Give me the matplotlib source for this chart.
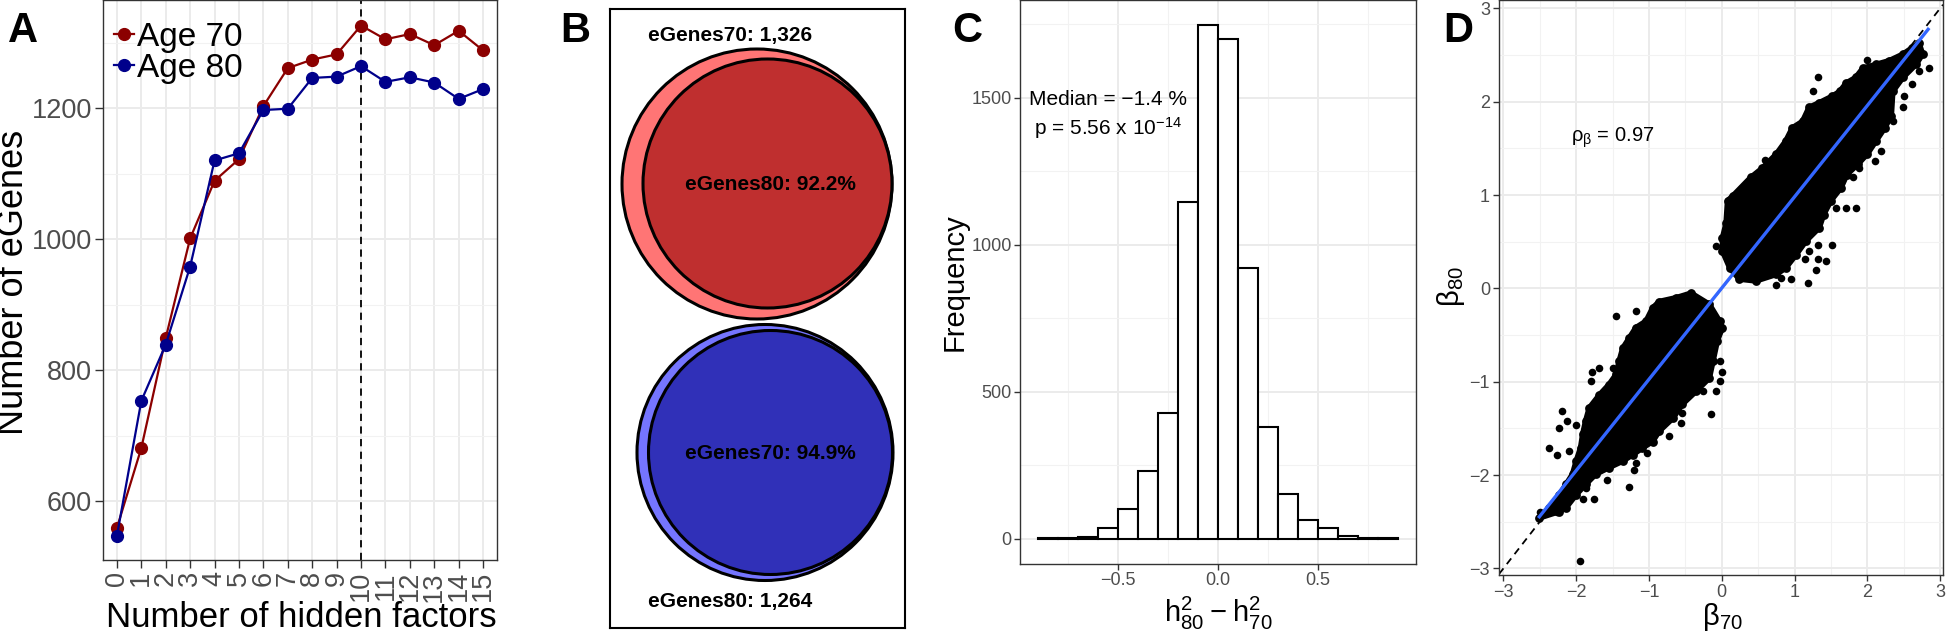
import numpy as np
import matplotlib
matplotlib.use("Agg")
import matplotlib.pyplot as plt
from matplotlib.patches import Circle

plt.rcParams['font.family'] = ['Liberation Sans', 'DejaVu Sans']
plt.rcParams['mathtext.default'] = 'regular'

W, H = 1946, 634

# ---- panel A: eGenes vs number of hidden factors
factors = list(range(16))
age70 = [559, 681, 849, 1001, 1089, 1122, 1203, 1261, 1274, 1282, 1326, 1305, 1313, 1296, 1318, 1288]
age80 = [547, 753, 839, 958, 1120, 1131, 1197, 1199, 1246, 1248, 1264, 1240, 1247, 1239, 1214, 1229]
chosen_k = 10

# ---- panel B: venn overlap
venn_names = ['eGenes70', 'eGenes80']
venn_totals = [1326, 1264]
venn_shared_pct = [92.2, 94.9]

# ---- panel C: histogram of h2 difference
h2_edges = [-0.9, -0.8, -0.7, -0.6, -0.5, -0.4, -0.3, -0.2, -0.1, 0.0,
            0.1, 0.2, 0.3, 0.4, 0.5, 0.6, 0.7, 0.8, 0.9]
h2_counts = [2, 3, 7, 37, 102, 231, 429, 1144, 1747, 1702, 920, 379, 153, 64, 37, 9, 1, 2]
median_pct = -1.4
p_mant, p_exp = 5.56, -14

# ---- panel D: beta70 vs beta80 (dense clouds as outlines + stray points)
upper_x = [0.01, 0.06, 0.08, 0.15, 0.40, 0.56, 0.75, 0.88, 0.97, 1.11, 1.20, 1.34, 1.52, 1.62,
           1.71, 1.84, 1.94, 2.12, 2.30, 2.49, 2.62, 2.71, 2.76, 2.67, 2.49, 2.35, 2.33, 2.24,
           2.12, 2.00, 1.87, 1.72, 1.64, 1.50, 1.40, 1.34, 1.16, 1.02, 0.88, 0.75, 0.47, 0.24,
           0.11, 0.01]
upper_y = [0.54, 0.70, 0.94, 0.99, 1.19, 1.29, 1.44, 1.58, 1.72, 1.79, 1.94, 1.99, 2.06, 2.11,
           2.20, 2.26, 2.36, 2.40, 2.44, 2.51, 2.58, 2.63, 2.51, 2.40, 2.26, 2.11, 1.85, 1.72,
           1.58, 1.44, 1.33, 1.22, 1.08, 0.94, 0.79, 0.65, 0.51, 0.36, 0.22, 0.15, 0.08, 0.10,
           0.22, 0.40]
lower_x = [-0.42, -0.17, -0.03, 0.01, -0.06, -0.12, -0.17, -0.35, -0.54, -0.67, -0.86, -0.95,
           -1.09, -1.22, -1.36, -1.55, -1.73, -1.87, -2.00, -2.14, -2.23, -2.51, -2.37, -2.23,
           -2.14, -2.05, -2.00, -1.94, -1.91, -1.87, -1.82, -1.68, -1.55, -1.45, -1.41, -1.36,
           -1.27, -1.18, -1.04, -0.95, -0.86, -0.63]
lower_y = [-0.05, -0.17, -0.35, -0.42, -0.56, -0.78, -0.96, -1.10, -1.24, -1.39, -1.53, -1.64,
           -1.71, -1.78, -1.85, -1.92, -1.99, -2.10, -2.21, -2.35, -2.39, -2.46, -2.35, -2.21,
           -2.10, -1.99, -1.85, -1.71, -1.56, -1.42, -1.28, -1.14, -1.03, -0.92, -0.78, -0.64,
           -0.53, -0.42, -0.35, -0.21, -0.14, -0.10]
stray_x = [1.32, 1.25, 2.00, 0.59, -0.08, 1.71, 1.84, 1.52, 1.32, 1.20, 1.43, 1.32, 1.14, 1.30,
           0.95, 0.81, 1.19, 0.74, 2.85, 2.71, 2.67, 2.58, 2.62, 2.51, 2.49, 2.35, 2.19, 2.10,
           1.89, 1.80, 1.57,
           -1.45, -1.18, -1.68, -1.78, -1.50, -1.80, -2.19, -2.24, -2.12, -2.00, -2.37, -2.26,
           -2.10, -1.87, -1.75, -1.91, -1.57, -1.27, -2.26, -0.03, 0.01, -0.03, -0.08, -0.15,
           -0.26, -0.54, -0.56, -0.72, -1.02, -1.18, -1.20, -1.95, -2.50]
stray_y = [2.26, 2.12, 2.45, 1.38, 0.45, 0.86, 0.86, 0.47, 0.47, 0.40, 0.29, 0.31, 0.31, 0.20,
           0.10, 0.11, 0.06, 0.04, 2.36, 2.33, 2.44, 2.45, 2.19, 2.06, 1.94, 1.79, 1.47, 1.36,
           1.29, 1.19, 0.86,
           -0.30, -0.24, -0.85, -0.89, -0.85, -0.99, -1.31, -1.49, -1.42, -1.46, -1.71, -1.78,
           -1.74, -2.14, -2.26, -2.26, -2.05, -2.13, -2.39, -0.78, -0.89, -0.99, -1.10, -1.35,
           -1.10, -1.33, -1.44, -1.58, -1.76, -1.87, -1.94, -2.92, -2.40]
fit_x = [-2.52, 2.85]
fit_y = [-2.46, 2.79]
rho_beta = 0.97

GRAY_TXT = '#4D4D4D'
GRID = '#EBEBEB'


def px_axes(l, t, r, b):
    return fig.add_axes([l / W, 1 - b / H, (r - l) / W, (b - t) / H])


def ftext(x, y, s, **kw):
    return fig.text(x / W, 1 - y / H, s, **kw)


def theme_bw(ax, tick_len, tick_size):
    ax.set_facecolor('white')
    for sp in ax.spines.values():
        sp.set_color('#333333')
        sp.set_linewidth(1.0)
    ax.tick_params(which='major', length=tick_len, width=1.0, color='#333333',
                   labelsize=tick_size, labelcolor=GRAY_TXT, pad=2)
    ax.tick_params(which='minor', length=0)
    ax.grid(which='major', color=GRID, lw=1.4)
    ax.grid(which='minor', color='#F2F2F2', lw=0.8)
    ax.set_axisbelow(True)


fig = plt.figure(figsize=(W / 100, H / 100), dpi=100)

# ================= A
axA = px_axes(103, 0, 497, 560)
theme_bw(axA, 6, 19.5)
axA.plot(factors, age70, '-o', color='#8B0000', lw=1.6, ms=8.5, label='Age 70', zorder=3)
axA.plot(factors, age80, '-o', color='#00008B', lw=1.6, ms=8.5, label='Age 80', zorder=4)
axA.axvline(chosen_k, color='black', ls=(0, (4, 3)), lw=1.3, zorder=2)
axA.set_xlim(-0.57, 15.57)
axA.set_ylim(510, 1365)
axA.set_xticks(factors)
axA.set_xticklabels([str(f) for f in factors], rotation=90)
axA.set_yticks([600, 800, 1000, 1200])
axA.set_yticks([700, 900, 1100, 1300], minor=True)
axA.legend(loc='upper left', bbox_to_anchor=(114 / W, 1 - 22 / H), bbox_transform=fig.transFigure,
           frameon=False, borderpad=0, borderaxespad=0, handlelength=0.6, handletextpad=0.1,
           labelspacing=0.0, fontsize=24)
ftext(14, 282, 'Number of eGenes', rotation=90, ha='center', va='center', fontsize=26)
ftext(301, 627, 'Number of hidden factors', ha='center', va='baseline', fontsize=25)

# ================= B
axB = px_axes(610, 9, 905, 628)
axB.set_xlim(0, 295)
axB.set_ylim(619, 0)
axB.set_xticks([])
axB.set_yticks([])
for sp in axB.spines.values():
    sp.set_color('black')
    sp.set_linewidth(1.5)
venn_layout = [  # (outer centre, outer r, inner centre, inner r, colours)
    ((147, 175), 135, (157.5, 174.5), 124.5, '#FF7575', '#BF2F2F'),
    ((155, 443.5), 128, (160.5, 443.5), 122, '#7575FF', '#3030B8'),
]
for (oc, orad, ic, irad, c_out, c_in) in venn_layout:
    axB.add_patch(Circle(oc, orad, facecolor=c_out, edgecolor='black', lw=2.2))
    axB.add_patch(Circle(ic, irad, facecolor=c_in, edgecolor='black', lw=2.2))
bold = dict(fontsize=15, fontweight='bold', ha='center', va='center')
axB.text(120, 27, f'{venn_names[0]}: {venn_totals[0]:,}', **bold)
axB.text(160, 176, f'{venn_names[1]}: {venn_shared_pct[0]}%', **bold)
axB.text(160, 444.5, f'{venn_names[0]}: {venn_shared_pct[1]}%', **bold)
axB.text(120, 593, f'{venn_names[1]}: {venn_totals[1]:,}', **bold)

# ================= C
axC = px_axes(1020, 0, 1416, 564)
theme_bw(axC, 4, 13)
widths = np.diff(h2_edges)
axC.bar(h2_edges[:-1], h2_counts, width=widths, align='edge', facecolor='white',
        edgecolor='black', lw=1.5, zorder=3)
axC.set_xlim(-0.99, 0.99)
axC.set_ylim(-86, 1833)
axC.set_xticks([-0.5, 0, 0.5])
axC.set_xticklabels(['\u22120.5', '0.0', '0.5'])
axC.set_xticks([-0.75, -0.25, 0.25, 0.75], minor=True)
axC.set_yticks([0, 500, 1000, 1500])
axC.set_yticks([250, 750, 1250, 1750], minor=True)
axC.text(-0.55, 1496, f'Median = \u2212{abs(median_pct)} %', ha='center', va='center', fontsize=15)
axC.text(-0.55, 1397, f'p = {p_mant} x 10$^{{{p_exp}}}$', ha='center', va='center', fontsize=15)
ftext(955, 282, 'Frequency', rotation=90, ha='center', va='center', fontsize=21)
ftext(1218, 613, '$h_{80}^{2} - h_{70}^{2}$', ha='center', va='center', fontsize=21)

# ================= D
axD = px_axes(1499, 0, 1943, 575)
theme_bw(axD, 4.5, 13)
axD.axline((0, 0), slope=1, color='black', ls=(0, (4, 3)), lw=1.3, zorder=2)
for bx, by in ((upper_x, upper_y), (lower_x, lower_y)):
    axD.fill(bx, by, facecolor='black', edgecolor='black', lw=4, joinstyle='round', zorder=3)
    axD.scatter(bx, by, s=40, color='black', zorder=3, lw=0)
axD.scatter(stray_x, stray_y, s=30, color='black', zorder=3, lw=0)
axD.plot(fit_x, fit_y, color='#3366FF', lw=2.4, zorder=4, solid_capstyle='butt')
axD.set_xlim(-3.06, 3.04)
axD.set_ylim(-3.07, 3.09)
axD.set_xticks(range(-3, 4))
axD.set_yticks(range(-3, 4))
axD.set_xticks([-2.5, -1.5, -0.5, 0.5, 1.5, 2.5], minor=True)
axD.set_yticks([-2.5, -1.5, -0.5, 0.5, 1.5, 2.5], minor=True)
axD.text(-1.5, 1.61, '\u03c1$_{\u03b2}$ = ' + f'{rho_beta}', ha='center', va='center', fontsize=14.5)
ftext(1451, 287, '\u03b2$_{80}$', rotation=90, ha='center', va='center', fontsize=21)
ftext(1722, 617, '\u03b2$_{70}$', ha='center', va='center', fontsize=21)

# ================= panel letters
for lx, letter in ((8, 'A'), (560, 'B'), (952, 'C'), (1443, 'D')):
    ftext(lx, 42, letter, fontsize=30, fontweight='bold', ha='left', va='baseline')

fig.savefig('out.png', dpi=100)
